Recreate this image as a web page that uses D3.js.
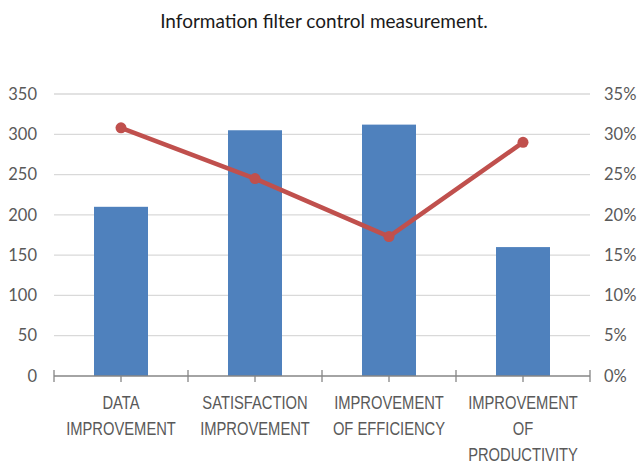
<!DOCTYPE html>
<html>
<head>
<meta charset="utf-8">
<script src="https://cdn.jsdelivr.net/npm/d3@7"></script>
<style>
  body { margin: 0; background: #fff; }
  text { font-family: "Liberation Sans", Arial, sans-serif; }
</style>
</head>
<body>
<div id="chart"></div>
<script>
//chart data
var categories = [
  ["DATA", "IMPROVEMENT"],
  ["SATISFACTION", "IMPROVEMENT"],
  ["IMPROVEMENT", "OF EFFICIENCY"],
  ["IMPROVEMENT", "OF", "PRODUCTIVITY"]
];
var barValues = [210, 305, 312, 160];
var lineValues = [0.308, 0.245, 0.173, 0.290];
var leftTicks = [0, 50, 100, 150, 200, 250, 300, 350];
var rightTicks = [0, 0.05, 0.10, 0.15, 0.20, 0.25, 0.30, 0.35];

var width = 638, height = 464;
var margin = {top: 94, right: 48, bottom: 88, left: 54};

var svg = d3.select("#chart").append("svg")
  .attr("width", width)
  .attr("height", height);

//title
svg.append("text")
  .text("Information filter control measurement.")
  .attr("x", 324)
  .attr("y", 28)
  .style("text-anchor", "middle")
  .style("font-family", "Lato, sans-serif")
  .style("font-size", 19)
  .style("fill", "#1a1a1a");

//scales
var xOuter = d3.scaleBand()
  .domain(d3.range(categories.length))
  .range([margin.left, width - margin.right]);
var y = d3.scaleLinear().domain([0, 350]).range([height - margin.bottom, margin.top]);
var y2 = d3.scaleLinear().domain([0, 0.35]).range([height - margin.bottom, margin.top]);

//gridlines
svg.selectAll(".grid")
  .data(leftTicks.slice(1))
  .enter().append("line")
  .attr("x1", margin.left)
  .attr("x2", width - margin.right)
  .attr("y1", function(d) { return y(d); })
  .attr("y2", function(d) { return y(d); })
  .style("stroke", "#d9d9d9")
  .style("stroke-width", 1.3);

//bars
svg.selectAll(".bar")
  .data(barValues)
  .enter().append("rect")
  .attr("x", function(d, i) { return xOuter(i) + xOuter.bandwidth() / 2 - 27; })
  .attr("width", 54)
  .attr("y", function(d) { return y(d); })
  .attr("height", function(d) { return y(0) - y(d); })
  .style("fill", "#4f81bd");

//left axis labels
var leftAxis = svg.append("g")
  .attr("transform", "translate(" + (margin.left - 17) + ",0)")
  .call(d3.axisLeft(y).tickValues(leftTicks).tickSize(0).tickPadding(0));
leftAxis.select(".domain").remove();
leftAxis.selectAll("text")
  .style("font-family", "Lato, sans-serif")
  .style("font-size", 16.5)
  .style("fill", "#595959");

//right axis labels
var rightAxis = svg.append("g")
  .attr("transform", "translate(" + (width - margin.right + 14) + ",0)")
  .call(d3.axisRight(y2).tickValues(rightTicks).tickFormat(d3.format(".0%")).tickSize(0).tickPadding(0));
rightAxis.select(".domain").remove();
rightAxis.selectAll("text")
  .style("font-family", "Lato, sans-serif")
  .style("font-size", 16.5)
  .style("fill", "#595959");

//x axis line and ticks
var axisY = y(0);
svg.append("line")
  .attr("x1", margin.left)
  .attr("x2", width - margin.right)
  .attr("y1", axisY)
  .attr("y2", axisY)
  .style("stroke", "#868686")
  .style("stroke-width", 1.3);
var bounds = d3.range(categories.length + 1).map(function(i) {
  return i < categories.length ? xOuter(i) : width - margin.right;
});
svg.selectAll(".sep")
  .data(bounds)
  .enter().append("line")
  .attr("x1", function(d) { return d; })
  .attr("x2", function(d) { return d; })
  .attr("y1", axisY - 6)
  .attr("y2", axisY + 6)
  .style("stroke", "#868686")
  .style("stroke-width", 1.3);
svg.selectAll(".mid")
  .data(d3.range(categories.length))
  .enter().append("line")
  .attr("x1", function(i) { return xOuter(i) + xOuter.bandwidth() / 2; })
  .attr("x2", function(i) { return xOuter(i) + xOuter.bandwidth() / 2; })
  .attr("y1", axisY)
  .attr("y2", axisY + 6)
  .style("stroke", "#868686")
  .style("stroke-width", 1.3);

//category labels, squeezed horizontally to look condensed
categories.forEach(function(lines, i) {
  var t = svg.append("text")
    .attr("transform", "translate(" + (xOuter(i) + xOuter.bandwidth() / 2) + ",409) scale(0.82,1)")
    .style("text-anchor", "middle")
    .style("font-size", 18)
    .style("fill", "#595959");
  lines.forEach(function(l, j) {
    t.append("tspan")
      .text(l)
      .attr("x", 0)
      .attr("dy", j == 0 ? 0 : 26);
  });
});

//line series
var line = d3.line()
  .x(function(d, i) { return xOuter(i) + xOuter.bandwidth() / 2; })
  .y(function(d) { return y2(d); });
svg.append("path")
  .datum(lineValues)
  .attr("d", line)
  .style("fill", "none")
  .style("stroke", "#c0504d")
  .style("stroke-width", 4.5)
  .style("stroke-linejoin", "round");
svg.selectAll(".dot")
  .data(lineValues)
  .enter().append("circle")
  .attr("cx", function(d, i) { return xOuter(i) + xOuter.bandwidth() / 2; })
  .attr("cy", function(d) { return y2(d); })
  .attr("r", 5.5)
  .style("fill", "#c0504d");
</script>
</body>
</html>
